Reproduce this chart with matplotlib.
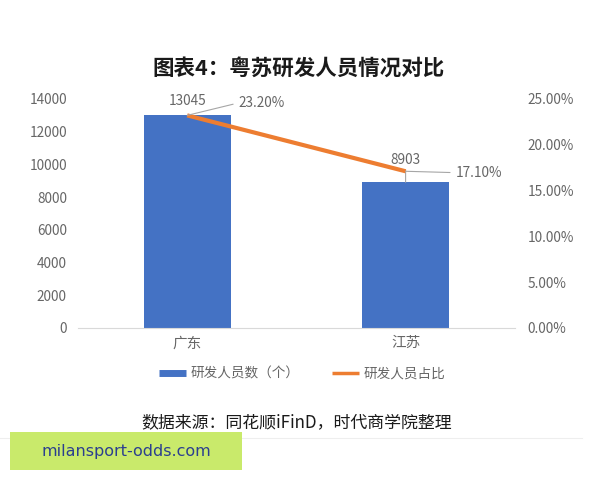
import matplotlib
matplotlib.use("Agg")
import matplotlib.pyplot as plt
from matplotlib.patches import Rectangle
from matplotlib.lines import Line2D
from matplotlib.ticker import FuncFormatter

plt.rcParams['font.family'] = ['Noto Sans CJK SC', 'DejaVu Sans']

categories = ['广东', '江苏']
staff = [13045, 8903]
share = [23.20, 17.10]
left_ticks = [0, 2000, 4000, 6000, 8000, 10000, 12000, 14000]
right_ticks = [0, 5, 10, 15, 20, 25]

title = '图表4：粤苏研发人员情况对比'
legend_labels = ['研发人员数（个）', '研发人员占比']
source = '数据来源：同花顺iFinD，时代商学院整理'
watermark = 'milansport-odds.com'

BLUE = '#4472C4'
ORANGE = '#ED7D31'
GRAY = '#666666'
FS = 9.8

fig = plt.figure(figsize=(6, 4.8), dpi=100)
ax = fig.add_axes([0.13, 0.3167, 0.728, 0.4773])
x = list(range(len(categories)))
ax.bar(x, staff, width=0.4, color=BLUE, zorder=2)
ax.set_xlim(-0.5, 1.5)
ax.set_ylim(0, 14000)
ax.set_yticks(left_ticks)
ax.set_xticks(x)
ax.set_xticklabels(categories, fontsize=10.5)
for s in ['top', 'right', 'left']:
    ax.spines[s].set_visible(False)
ax.spines['bottom'].set_color('#D9D9D9')
ax.tick_params(axis='both', length=0, colors=GRAY, labelsize=FS)
ax.tick_params(axis='x', labelsize=10.5, pad=6)
ax.tick_params(axis='y', pad=8)

ax2 = ax.twinx()
ax2.plot(x, share, color=ORANGE, lw=3, zorder=3, solid_capstyle='butt')
ax2.set_ylim(0, 25)
ax2.set_yticks(right_ticks)
ax2.yaxis.set_major_formatter(FuncFormatter(lambda v, p: f'{v:.2f}%'))
for s in ['top', 'right', 'left', 'bottom']:
    ax2.spines[s].set_visible(False)
ax2.tick_params(axis='y', length=0, colors=GRAY, labelsize=FS, pad=9)

# data labels
ax.annotate(f'{staff[0]}', xy=(x[0], staff[0]), xytext=(0, 5), textcoords='offset points',
            ha='center', va='bottom', fontsize=FS, color=GRAY)
ax.annotate(f'{staff[1]}', xy=(x[1], staff[1]), xytext=(0, 11), textcoords='offset points',
            ha='center', va='bottom', fontsize=FS, color=GRAY,
            arrowprops=dict(arrowstyle='-', color='#A6A6A6', lw=0.8, shrinkA=0, shrinkB=0,
                            relpos=(0.5, 0)))
ax2.annotate(f'{share[0]:.2f}%', xy=(x[0], share[0]), xytext=(37, 9), textcoords='offset points',
             ha='left', va='center', fontsize=FS, color=GRAY,
             arrowprops=dict(arrowstyle='-', color='#A6A6A6', lw=0.8, shrinkA=2, shrinkB=0,
                             relpos=(0, 0.5)))
ax2.annotate(f'{share[1]:.2f}%', xy=(x[1], share[1]), xytext=(36, -1), textcoords='offset points',
             ha='left', va='center', fontsize=FS, color=GRAY,
             arrowprops=dict(arrowstyle='-', color='#A6A6A6', lw=0.8, shrinkA=2, shrinkB=0,
                             relpos=(0, 0.5)))

fig.text(0.497, 0.858, title, ha='center', va='center', fontsize=15.5, fontweight='bold', color='#1a1a1a')

handles = [Line2D([0], [0], color=BLUE, lw=5, solid_capstyle='butt'),
           Line2D([0], [0], color=ORANGE, lw=2.5, solid_capstyle='butt')]
fig.legend(handles, legend_labels, loc='center', bbox_to_anchor=(0.503, 0.221), ncol=2,
           frameon=False, fontsize=FS, labelcolor=GRAY, handlelength=2.0, handletextpad=0.3,
           columnspacing=2.4)

fig.text(0.495, 0.12, source, ha='center', va='center', fontsize=12.2, color='#1a1a1a')
fig.add_artist(Line2D([0.0, 0.97], [0.087, 0.087], transform=fig.transFigure, color='#EEEEEE',
                      lw=0.8, zorder=1))
fig.add_artist(Rectangle((0.017, 0.02), 0.387, 0.081, transform=fig.transFigure,
                         facecolor='#C9EA6B', edgecolor='none', zorder=2))
fig.text(0.21, 0.06, watermark, ha='center', va='center', fontsize=11.5, color='#2B3F8F',
         family=['DejaVu Sans'], zorder=3)

fig.savefig('out.png', dpi=100)
